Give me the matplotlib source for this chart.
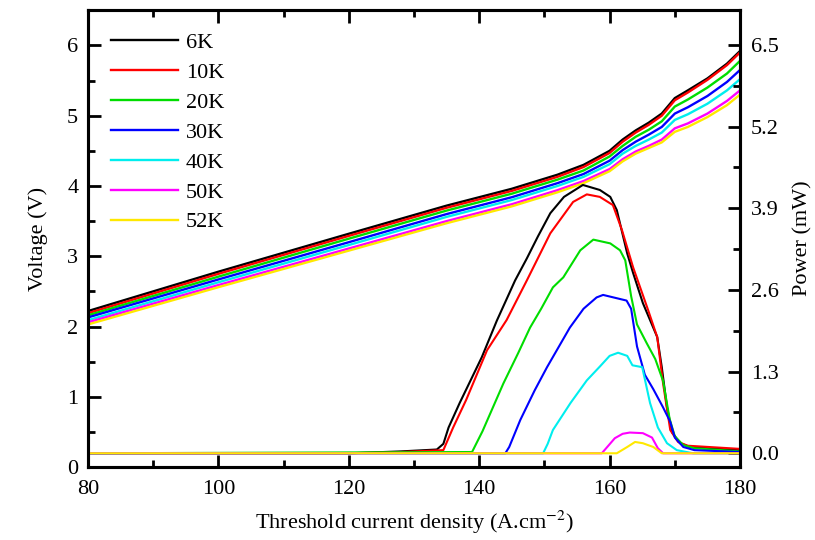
import matplotlib
matplotlib.use("Agg")
import matplotlib.pyplot as plt
from matplotlib.ticker import MultipleLocator, FormatStrFormatter

plt.rcParams['font.family'] = ['Liberation Serif', 'DejaVu Serif']
plt.rcParams['mathtext.fontset'] = 'stix'

labels = ["6K", "10K", "20K", "30K", "40K", "50K", "52K"]
colors = ["#000000", "#ff0000", "#00dd00", "#0000ff", "#00eeee", "#ff00ff", "#ffe800"]

# voltage (left axis), common x grid
v_x = [80, 100, 120, 135, 145, 152, 156, 160, 162, 164, 166, 168, 170, 172, 175, 178, 180]
volt = {
    "6K":  [2.22, 2.78, 3.32, 3.72, 3.96, 4.16, 4.30, 4.50, 4.66, 4.79, 4.90, 5.03, 5.25, 5.36, 5.53, 5.74, 5.92],
    "10K": [2.19, 2.75, 3.29, 3.69, 3.93, 4.13, 4.27, 4.47, 4.63, 4.76, 4.87, 5.00, 5.22, 5.33, 5.51, 5.72, 5.90],
    "20K": [2.16, 2.71, 3.25, 3.65, 3.89, 4.09, 4.22, 4.42, 4.57, 4.70, 4.80, 4.92, 5.13, 5.23, 5.40, 5.60, 5.78],
    "30K": [2.13, 2.67, 3.20, 3.60, 3.84, 4.04, 4.17, 4.36, 4.51, 4.63, 4.73, 4.84, 5.03, 5.12, 5.28, 5.48, 5.65],
    "40K": [2.09, 2.63, 3.16, 3.56, 3.80, 4.00, 4.13, 4.31, 4.46, 4.57, 4.66, 4.76, 4.94, 5.02, 5.17, 5.36, 5.52],
    "50K": [2.06, 2.59, 3.11, 3.50, 3.74, 3.94, 4.07, 4.24, 4.38, 4.49, 4.57, 4.66, 4.82, 4.89, 5.03, 5.21, 5.36],
    "52K": [2.03, 2.56, 3.08, 3.47, 3.71, 3.91, 4.04, 4.21, 4.35, 4.46, 4.54, 4.62, 4.77, 4.84, 4.98, 5.15, 5.30],
}

# optical power (right axis)
p_x = {
    "6K":  [80, 120, 128, 133.5, 134.5, 135.3, 137, 140.4, 142.7, 145.5, 147.3, 149, 150.9, 153, 155.9, 158.5,
            160.1, 161.1, 162.7, 163.6, 165.1, 167.3, 168, 168.8, 169.6, 170.8, 172.3, 180],
    "10K": [80, 120, 128, 134.5, 136, 138, 141.2, 144.2, 147.3, 150.9, 154.4, 156.5, 158.5, 160.5, 161.9, 163.6,
            165.9, 167.3, 168.2, 169.3, 170.5, 172, 180],
    "20K": [80, 138.9, 140.5, 143.7, 146, 147.8, 149.5, 151.3, 152.9, 155.5, 157.5, 160.1, 161.6, 162.4, 163.3,
            164.2, 165.7, 167, 168.2, 169.2, 170, 171.3, 173, 180],
    "30K": [80, 144, 144.6, 146.3, 148.5, 150.4, 153.9, 156, 158, 159, 161, 162.6, 163.3, 164.2, 165.4, 166.7,
            168.2, 169.3, 170, 171.3, 173, 180],
    "40K": [80, 149.8, 150.5, 151.3, 154, 156.5, 158.5, 160, 161.3, 162.7, 163.5, 165, 166.2, 167.4, 168.8,
            170.3, 172.8, 180],
    "50K": [80, 158.8, 160.8, 162, 163.1, 165.1, 166.5, 167.4, 168.2, 180],
    "52K": [80, 161.1, 162.7, 163.9, 165.1, 166.7, 168, 180],
}
power = {
    "6K":  [0.0, 0.0, 0.03, 0.06, 0.15, 0.41, 0.80, 1.53, 2.11, 2.75, 3.10, 3.45, 3.82, 4.08, 4.27, 4.19,
            4.08, 3.87, 3.18, 2.87, 2.39, 1.85, 1.37, 0.73, 0.33, 0.16, 0.10, 0.05],
    "10K": [0.0, 0.0, 0.02, 0.05, 0.41, 0.85, 1.64, 2.12, 2.75, 3.50, 4.00, 4.12, 4.08, 3.95, 3.55, 2.96,
            2.28, 1.85, 1.11, 0.37, 0.18, 0.12, 0.07],
    "20K": [0.0, 0.02, 0.35, 1.11, 1.60, 2.00, 2.30, 2.64, 2.80, 3.23, 3.40, 3.34, 3.23, 3.07, 2.50,
            2.05, 1.75, 1.50, 1.15, 0.55, 0.27, 0.13, 0.08, 0.03],
    "30K": [0.0, 0.0, 0.10, 0.53, 1.00, 1.37, 2.00, 2.30, 2.48, 2.52, 2.47, 2.43, 2.30, 1.70, 1.25, 1.02,
            0.73, 0.50, 0.25, 0.10, 0.05, 0.02],
    "40K": [0.0, 0.0, 0.15, 0.37, 0.80, 1.16, 1.38, 1.55, 1.60, 1.55, 1.40, 1.37, 0.80, 0.41, 0.16,
            0.05, 0.0, 0.0],
    "50K": [0.0, 0.0, 0.24, 0.31, 0.33, 0.32, 0.25, 0.08, 0.0, 0.0],
    "52K": [0.0, 0.0, 0.10, 0.18, 0.16, 0.10, 0.0, 0.0],
}

fig = plt.figure(figsize=(8.15, 5.4), dpi=100)
ax = fig.add_axes([0.108, 0.135, 0.80, 0.846])
ax2 = ax.twinx()

lines = []
for lab, col in zip(labels, colors):
    ln, = ax.plot(v_x, volt[lab], color=col, lw=1.7, label=lab)
    lines.append(ln)
    ax2.plot(p_x[lab], power[lab], color=col, lw=1.5)

ax.set_xlim(80, 180)
ax.set_ylim(0, 6.5)
ax2.set_ylim(-0.22, 7.05)

ax.xaxis.set_major_locator(MultipleLocator(20))
ax.xaxis.set_minor_locator(MultipleLocator(10))
ax.yaxis.set_major_locator(MultipleLocator(1))
ax.yaxis.set_minor_locator(MultipleLocator(0.5))
ax2.yaxis.set_major_locator(MultipleLocator(1.3))
ax2.yaxis.set_minor_locator(MultipleLocator(0.65))
ax2.yaxis.set_major_formatter(FormatStrFormatter('%.1f'))

ax.tick_params(axis='both', which='both', direction='in', width=2, labelsize=16)
ax.tick_params(axis='x', which='both', top=True, pad=9)
ax.tick_params(axis='y', pad=7)
ax.tick_params(which='major', length=9)
ax.tick_params(which='minor', length=5)
ax2.tick_params(axis='y', which='both', direction='in', width=2, labelsize=16, pad=8)
ax2.tick_params(which='major', length=9)
ax2.tick_params(which='minor', length=5)

for a in (ax, ax2):
    for s in a.spines.values():
        s.set_linewidth(2.2)

ax.set_xlabel("Threshold current density (A.cm$^{-2}$)", fontsize=16, labelpad=7)
ax.set_ylabel("Voltage (V)", fontsize=16, labelpad=14)
ax2.set_ylabel("Power (mW)", fontsize=16, labelpad=10)

ax.legend(handles=lines, loc='upper left', frameon=False, fontsize=16,
          handlelength=3.0, handletextpad=0.35, labelspacing=0.42,
          bbox_to_anchor=(0.005, 0.995))

fig.savefig("out.png", dpi=100)
